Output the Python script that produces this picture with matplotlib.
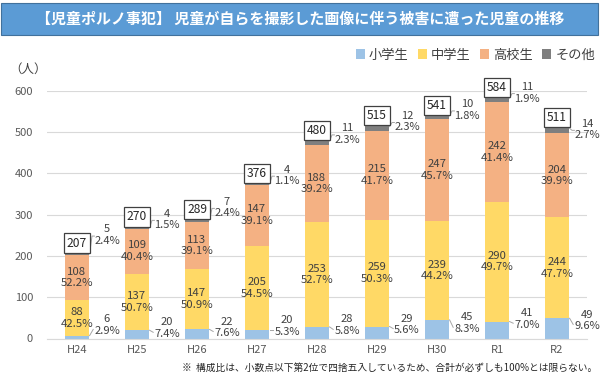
import matplotlib
matplotlib.use("Agg")
import matplotlib.pyplot as plt
from matplotlib.patches import Rectangle
import numpy as np

plt.rcParams['font.family'] = ['Noto Sans CJK JP', 'DejaVu Sans']

years = ['H24', 'H25', 'H26', 'H27', 'H28', 'H29', 'H30', 'R1', 'R2']
elem = [6, 20, 22, 20, 28, 29, 45, 41, 49]
middle = [88, 137, 147, 205, 253, 259, 239, 290, 244]
high = [108, 109, 113, 147, 188, 215, 247, 242, 204]
other = [5, 4, 7, 4, 11, 12, 10, 11, 14]
totals = [207, 270, 289, 376, 480, 515, 541, 584, 511]
elem_pct = ['2.9%', '7.4%', '7.6%', '5.3%', '5.8%', '5.6%', '8.3%', '7.0%', '9.6%']
middle_pct = ['42.5%', '50.7%', '50.9%', '54.5%', '52.7%', '50.3%', '44.2%', '49.7%', '47.7%']
high_pct = ['52.2%', '40.4%', '39.1%', '39.1%', '39.2%', '41.7%', '45.7%', '41.4%', '39.9%']
other_pct = ['2.4%', '1.5%', '2.4%', '1.1%', '2.3%', '2.3%', '1.8%', '1.9%', '2.7%']

# label placement (hand tuned, like the original)
other_lbl_dy = [43, 18, 28, 19, 15, 10, 12, 11, -5]
elem_lbl_y = [32, 25, 27, 30, 32, 34, 37, 47, 44]

c_elem = '#9DC3E6'
c_mid = '#FFD966'
c_high = '#F4B183'
c_oth = '#7F7F7F'
txt = '#404040'

fig = plt.figure(figsize=(6, 3.77), dpi=100)
ax = fig.add_axes([47/600, 38.5/377, 540/600, 247.8/377])

x = np.arange(len(years))
w = 0.4
e = np.array(elem)
m = np.array(middle)
h = np.array(high)
o = np.array(other)

ax.bar(x, e, w, color=c_elem, label='小学生', zorder=2)
ax.bar(x, m, w, bottom=e, color=c_mid, label='中学生', zorder=2)
ax.bar(x, h, w, bottom=e + m, color=c_high, label='高校生', zorder=2)
ax.bar(x, o, w, bottom=e + m + h, color=c_oth, label='その他', zorder=2)

fs = 8.2
sfs = 8.0
dx = 0.5
for i in range(len(years)):
    # middle / high inside labels
    ax.text(x[i], e[i] + m[i] / 2, f'{middle[i]}\n{middle_pct[i]}', ha='center', va='center',
            fontsize=fs, color=txt, linespacing=1.2, zorder=3)
    ax.text(x[i], e[i] + m[i] + h[i] / 2, f'{high[i]}\n{high_pct[i]}', ha='center', va='center',
            fontsize=fs, color=txt, linespacing=1.2, zorder=3)
    # elementary label to the right
    ly = elem_lbl_y[i]
    ax.text(x[i] + dx, ly, f'{elem[i]}\n{elem_pct[i]}', ha='center', va='center',
            fontsize=sfs, color=txt, linespacing=1.2, zorder=3)
    ax.plot([x[i] + 0.21, x[i] + 0.27], [max(elem[i], ly - 25), ly - 10], color='#A6A6A6', lw=0.7, zorder=3)
    # other label to the right
    oy = totals[i] + other_lbl_dy[i]
    ax.text(x[i] + dx, oy, f'{other[i]}\n{other_pct[i]}', ha='center', va='center',
            fontsize=sfs, color=txt, linespacing=1.2, zorder=3)
    ax.plot([x[i] + 0.21, x[i] + 0.25, x[i] + 0.29], [totals[i] - 2, oy - 2, oy - 2],
            color='#A6A6A6', lw=0.7, zorder=3)
    # total box
    ax.annotate(str(totals[i]), (x[i], totals[i]), xytext=(0, 10), textcoords='offset pixels',
                ha='center', va='center', fontsize=8.7, color='#262626', zorder=4,
                bbox=dict(boxstyle='square,pad=0.25', fc='white', ec='#404040', lw=0.9))

ax.set_xlim(-0.5, 8.5)
ax.set_ylim(0, 600)
ax.set_yticks(range(0, 601, 100))
ax.set_xticks(x)
ax.set_xticklabels(years)
ax.tick_params(axis='both', length=0, labelsize=8, labelcolor='#595959')
ax.tick_params(axis='y', pad=10)
ax.tick_params(axis='x', pad=5)
ax.grid(axis='y', color='#D9D9D9', lw=0.8, zorder=0)
for s in ['top', 'right', 'left']:
    ax.spines[s].set_visible(False)
ax.spines['bottom'].set_color('#D9D9D9')

fig.text(28/600, 1 - 69/377, '（人）', ha='center', va='center', fontsize=9, color='#404040')

# title bar
fig.patches.append(Rectangle((1/600, 1 - 35/377), 597/600, 32/377, transform=fig.transFigure,
                             fc='#5B9BD5', ec='#41719C', lw=0.8))
fig.text(0.5, 1 - 18.5/377, '【児童ポルノ事犯】 児童が自らを撮影した画像に伴う被害に遭った児童の推移',
         ha='center', va='center', fontsize=10.8, color='white', fontweight='bold')

fig.legend(loc='center right', bbox_to_anchor=(595/600, 1 - 55/377), ncol=4, frameon=False,
           fontsize=9.5, handlelength=0.7, handleheight=0.7, handletextpad=0.3, columnspacing=0.7,
           labelcolor='#404040', borderaxespad=0, borderpad=0)

fig.text(597/600, 1 - 368/377, '※  構成比は、小数点以下第2位で四捨五入しているため、合計が必ずしも100%とは限らない。',
         ha='right', va='center', fontsize=7, color='#262626')

fig.savefig('out.png', dpi=100)
